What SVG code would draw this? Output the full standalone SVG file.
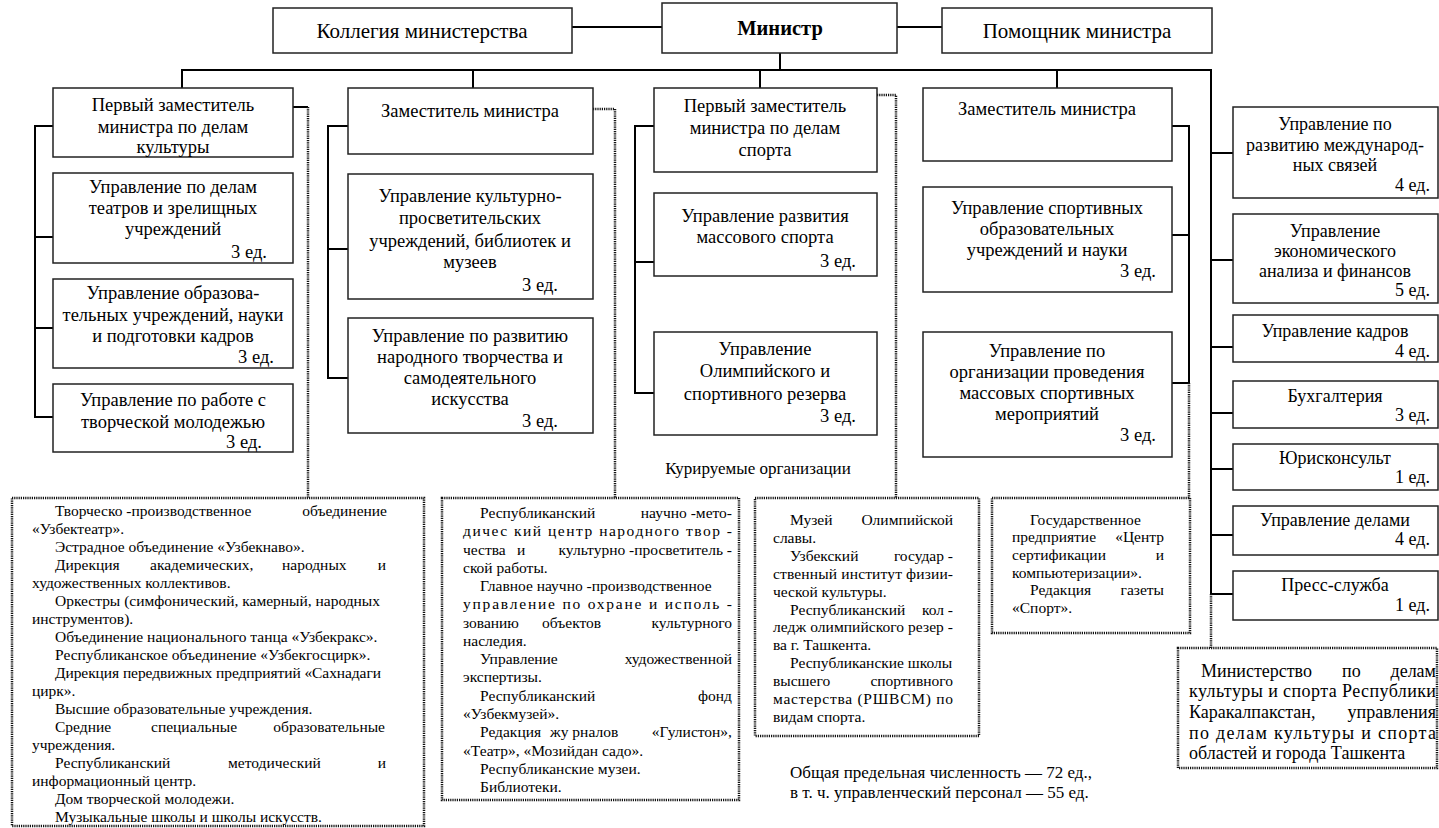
<svg xmlns="http://www.w3.org/2000/svg" width="1439" height="828" viewBox="0 0 1439 828" font-family="'Liberation Serif', 'Times New Roman', serif">
<style>
.box{fill:#fff;stroke:#222;stroke-width:1.5}
.dbox{fill:#fff;stroke:#111;stroke-width:2.5;stroke-dasharray:1.2 1}
.conn{stroke:#000;stroke-width:2;fill:none}
.dot{stroke:#111;stroke-width:2.5;stroke-dasharray:1.2 1;fill:none}
text{font-family:'Liberation Serif','Times New Roman',serif;font-size:18px;fill:#000}
.m{font-size:18.5px}
.top{font-size:21px}
.s{font-size:15.5px}
.c{text-anchor:middle}
.e{text-anchor:end}
.b{font-weight:bold;font-size:20.5px}
</style>
<rect width="1439" height="828" fill="#fff"/>
<g id="connectors">
<path class="conn" d="M572 27H662M897 27H942M780 53V70M181 70H1211V594M182 70V88M473 70V88M760 70V88M1057 70V88"/>
<path class="conn" d="M53 126H35V417H53M35 237H53M35 328H53"/>
<path class="conn" d="M348 126H328V378H348M328 249H348"/>
<path class="conn" d="M654 126H635V393H654M635 262H654"/>
<path class="conn" d="M1172 126H1189V383H1172M1172 235H1189"/>
<path class="conn" d="M1211 153H1233M1211 260H1233M1211 347H1233M1211 413H1233M1211 469H1233M1211 535H1233M1211 594H1233"/>
<path class="conn" d="M293 107H308"/>
<path class="dot" d="M308 107V498"/>
<path class="dot" d="M593 109H615V498"/>
<path class="dot" d="M877 95H896V498"/>
<path class="dot" d="M1189 383V498"/>
<path class="dot" d="M1211 594V648"/>
</g>
<g id="kollegia"><rect class="box" x="273" y="8" width="299" height="45"/><text class="top c" x="422" y="38">Коллегия министерства</text></g>
<g id="ministr"><rect class="box" x="662" y="3" width="235" height="50"/><text class="b c" x="780" y="35">Министр</text></g>
<g id="pomoshnik"><rect class="box" x="942" y="8" width="270" height="45"/><text class="top c" x="1077" y="38">Помощник министра</text></g>

<g id="c1b1"><rect class="box" x="53" y="88" width="240" height="69"/><text class="m c" x="173" y="111">Первый заместитель</text><text class="m c" x="173" y="133">министра по делам</text><text class="m c" x="173" y="153">культуры</text></g>
<g id="c1b2"><rect class="box" x="53" y="173" width="240" height="90"/><text class="m c" x="173" y="193">Управление по делам</text><text class="m c" x="173" y="214">театров и зрелищных</text><text class="m c" x="173" y="235">учреждений</text><text class="m e" x="267" y="258">3 ед.</text></g>
<g id="c1b3"><rect class="box" x="53" y="279" width="240" height="89"/><text class="m c" x="173" y="299">Управление образова-</text><text class="m c" x="173" y="321">тельных учреждений, науки</text><text class="m c" x="173" y="342">и подготовки кадров</text><text class="m e" x="274" y="363">3 ед.</text></g>
<g id="c1b4"><rect class="box" x="53" y="384" width="240" height="68"/><text class="m c" x="173" y="406">Управление по работе с</text><text class="m c" x="173" y="428">творческой молодежью</text><text class="m e" x="262" y="448">3 ед.</text></g>

<g id="c2b1"><rect class="box" x="348" y="88" width="245" height="66"/><text class="m c" x="470" y="117">Заместитель министра</text></g>
<g id="c2b2"><rect class="box" x="348" y="174" width="245" height="125"/><text class="m c" x="470" y="202">Управление культурно-</text><text class="m c" x="470" y="224">просветительских</text><text class="m c" x="470" y="247">учреждений, библиотек и</text><text class="m c" x="470" y="268">музеев</text><text class="m e" x="558" y="291">3 ед.</text></g>
<g id="c2b3"><rect class="box" x="348" y="318" width="245" height="115"/><text class="m c" x="470" y="342">Управление по развитию</text><text class="m c" x="470" y="363">народного творчества и</text><text class="m c" x="470" y="384">самодеятельного</text><text class="m c" x="470" y="405">искусства</text><text class="m e" x="558" y="427">3 ед.</text></g>

<g id="c3b1"><rect class="box" x="654" y="88" width="223" height="84"/><text class="m c" x="765" y="112">Первый заместитель</text><text class="m c" x="765" y="134">министра по делам</text><text class="m c" x="765" y="156">спорта</text></g>
<g id="c3b2"><rect class="box" x="654" y="193" width="223" height="83"/><text class="m c" x="765" y="222">Управление развития</text><text class="m c" x="765" y="243">массового спорта</text><text class="m e" x="856" y="267">3 ед.</text></g>
<g id="c3b3"><rect class="box" x="654" y="332" width="223" height="103"/><text class="m c" x="765" y="355">Управление</text><text class="m c" x="765" y="377">Олимпийского и</text><text class="m c" x="765" y="400">спортивного резерва</text><text class="m e" x="856" y="422">3 ед.</text></g>

<g id="c4b1"><rect class="box" x="923" y="88" width="249" height="73"/><text class="m c" x="1047" y="115">Заместитель министра</text></g>
<g id="c4b2"><rect class="box" x="923" y="187" width="249" height="105"/><text class="m c" x="1047" y="214">Управление спортивных</text><text class="m c" x="1047" y="235">образовательных</text><text class="m c" x="1047" y="256">учреждений и  науки</text><text class="m e" x="1156" y="277">3 ед.</text></g>
<g id="c4b3"><rect class="box" x="923" y="332" width="249" height="125"/><text class="m c" x="1047" y="357">Управление по</text><text class="m c" x="1047" y="378">организации проведения</text><text class="m c" x="1047" y="399">массовых спортивных</text><text class="m c" x="1047" y="420">мероприятий</text><text class="m e" x="1156" y="441">3 ед.</text></g>

<g id="r1"><rect class="box" x="1233" y="107" width="205" height="91"/><text class="c" x="1335" y="130">Управление по</text><text class="c" x="1335" y="151">развитию международ-</text><text class="c" x="1335" y="171">ных связей</text><text class="e" x="1430" y="191">4 ед.</text></g>
<g id="r2"><rect class="box" x="1233" y="214" width="205" height="89"/><text class="c" x="1335" y="237">Управление</text><text class="c" x="1335" y="257">экономического</text><text class="c" x="1335" y="277">анализа и финансов</text><text class="e" x="1430" y="296">5 ед.</text></g>
<g id="r3"><rect class="box" x="1233" y="315" width="205" height="47"/><text class="c" x="1335" y="337">Управление кадров</text><text class="e" x="1430" y="357">4 ед.</text></g>
<g id="r4"><rect class="box" x="1233" y="381" width="205" height="47"/><text class="c" x="1335" y="402">Бухгалтерия</text><text class="e" x="1430" y="421">3 ед.</text></g>
<g id="r5"><rect class="box" x="1233" y="444" width="205" height="46"/><text class="c" x="1335" y="464">Юрисконсульт</text><text class="e" x="1430" y="483">1 ед.</text></g>
<g id="r6"><rect class="box" x="1233" y="506" width="205" height="49"/><text class="c" x="1335" y="526">Управление делами</text><text class="e" x="1430" y="545">4 ед.</text></g>
<g id="r7"><rect class="box" x="1233" y="571" width="205" height="49"/><text class="c" x="1335" y="591">Пресс-служба</text><text class="e" x="1430" y="611">1 ед.</text></g>

<text id="kuriruemye" class="c" x="758" y="474" style="font-size:17px">Курируемые организации</text>

<g id="org1"><rect class="dbox" x="12" y="498" width="412" height="328"/>
<text class="s" x="55" y="516">Творческо -производственное</text><text class="s e" x="387" y="516">объединение</text>
<text class="s" x="32" y="534">«Узбектеатр».</text>
<text class="s" x="55" y="552">Эстрадное объединение «Узбекнаво».</text>
<text class="s" x="55" y="570">Дирекция</text><text class="s" x="150" y="570">академических,</text><text class="s" x="282" y="570">народных</text><text class="s e" x="386" y="570">и</text>
<text class="s" x="32" y="588">художественных коллективов.</text>
<text class="s" x="55" y="606" textLength="325" lengthAdjust="spacing">Оркестры (симфонический, камерный, народных</text>
<text class="s" x="32" y="624">инструментов).</text>
<text class="s" x="55" y="642">Объединение национального танца «Узбекракс».</text>
<text class="s" x="55" y="660">Республиканское объединение «Узбекгосцирк».</text>
<text class="s" x="55" y="678" textLength="326" lengthAdjust="spacing">Дирекция передвижных предприятий «Сахнадаги</text>
<text class="s" x="32" y="696">цирк».</text>
<text class="s" x="55" y="714">Высшие образовательные учреждения.</text>
<text class="s" x="55" y="732">Средние</text><text class="s" x="151" y="732">специальные</text><text class="s e" x="385" y="732">образовательные</text>
<text class="s" x="32" y="750">учреждения.</text>
<text class="s" x="55" y="768">Республиканский</text><text class="s" x="228" y="768">методический</text><text class="s e" x="386" y="768">и</text>
<text class="s" x="32" y="786">информационный центр.</text>
<text class="s" x="55" y="804">Дом творческой молодежи.</text>
<text class="s" x="55" y="822">Музыкальные школы и школы искусств.</text>
</g>

<g id="org2"><rect class="dbox" x="442" y="498" width="297" height="302"/>
<text class="s" x="480" y="518">Республиканский</text><text class="s e" x="732" y="518">научно -мето-</text>
<text class="s" x="463" y="536" textLength="269" lengthAdjust="spacing">дичес кий  центр  народного  твор -</text>
<text class="s" x="463" y="555">чества</text><text class="s" x="517" y="555">и</text><text class="s e" x="732" y="555">культурно -просветитель -</text>
<text class="s" x="463" y="573">ской работы.</text>
<text class="s" x="480" y="591">Главное научно -производственное</text>
<text class="s" x="463" y="609" textLength="269" lengthAdjust="spacing">управление  по  охране  и  исполь -</text>
<text class="s" x="463" y="628">зованию</text><text class="s" x="542" y="628">объектов</text><text class="s e" x="732" y="628">культурного</text>
<text class="s" x="463" y="646">наследия.</text>
<text class="s" x="480" y="664">Управление</text><text class="s e" x="732" y="664">художественной</text>
<text class="s" x="463" y="682">экспертизы.</text>
<text class="s" x="480" y="701">Республиканский</text><text class="s e" x="732" y="701">фонд</text>
<text class="s" x="463" y="719">«Узбекмузей».</text>
<text class="s" x="480" y="737">Редакция</text><text class="s" x="550" y="737">жу рналов</text><text class="s e" x="732" y="737">«Гулистон»,</text>
<text class="s" x="463" y="756">«Театр», «Мозийдан садо».</text>
<text class="s" x="480" y="774">Республиканские музеи.</text>
<text class="s" x="480" y="792">Библиотеки.</text>
</g>

<g id="org3"><rect class="dbox" x="755" y="498" width="224" height="238"/>
<text class="s" x="790" y="525">Музей</text><text class="s e" x="953" y="525">Олимпийской</text>
<text class="s" x="773" y="543">славы.</text>
<text class="s" x="790" y="561">Узбекский</text><text class="s e" x="953" y="561">государ -</text>
<text class="s" x="773" y="579" textLength="180" lengthAdjust="spacing">ственный институт физии-</text>
<text class="s" x="773" y="597">ческой культуры.</text>
<text class="s" x="790" y="615">Республиканский</text><text class="s e" x="953" y="615">кол -</text>
<text class="s" x="773" y="632" textLength="180" lengthAdjust="spacing">ледж олимпийского резер -</text>
<text class="s" x="773" y="650">ва г. Ташкента.</text>
<text class="s" x="790" y="668">Республиканские школы</text>
<text class="s" x="773" y="686">высшего</text><text class="s e" x="953" y="686">спортивного</text>
<text class="s" x="773" y="704" textLength="180" lengthAdjust="spacing">мастерства (РШВСМ) по</text>
<text class="s" x="773" y="722">видам спорта.</text>
</g>

<g id="org4"><rect class="dbox" x="992" y="498" width="198" height="135"/>
<text class="s" x="1030" y="525">Государственное</text>
<text class="s" x="1012" y="542">предприятие</text><text class="s e" x="1164" y="542">«Центр</text>
<text class="s" x="1012" y="560">сертификации</text><text class="s e" x="1164" y="560">и</text>
<text class="s" x="1012" y="578">компьютеризации».</text>
<text class="s" x="1030" y="595">Редакция</text><text class="s e" x="1164" y="595">газеты</text>
<text class="s" x="1012" y="613">«Спорт».</text>
</g>

<g id="regions"><rect class="dbox" x="1178" y="648" width="259" height="120"/>
<text x="1201" y="677">Министерство</text><text x="1342" y="677">по</text><text class="e" x="1436" y="677">делам</text>
<text x="1189" y="697" textLength="247" lengthAdjust="spacing">культуры и спорта Республики</text>
<text x="1189" y="718">Каракалпакстан,</text><text class="e" x="1436" y="718">управления</text>
<text x="1189" y="739" textLength="247" lengthAdjust="spacing">по делам культуры и спорта</text>
<text x="1189" y="759">областей и города Ташкента</text>
</g>

<g id="note">
<text x="790" y="778" style="font-size:17px">Общая  предельная численность — 72 ед.,</text>
<text x="790" y="798" style="font-size:17px">в т. ч. управленческий персонал — 55 ед.</text>
</g>
</svg>
